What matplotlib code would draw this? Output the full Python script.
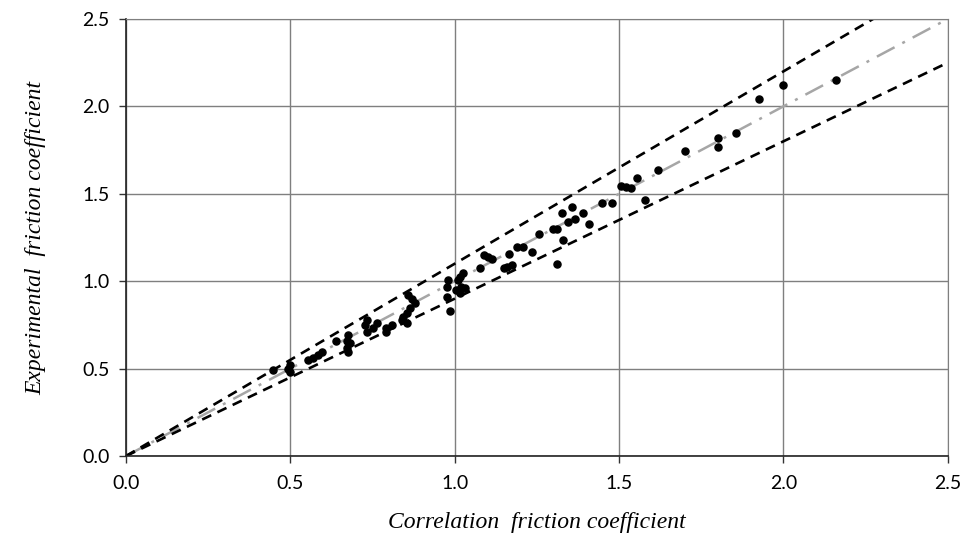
import matplotlib
matplotlib.use("Agg")
import matplotlib.pyplot as plt
import numpy as np

# correlation (x) vs experimental (y) friction coefficient
corr = [0.447, 0.50, 0.493, 0.50,
        0.553, 0.569, 0.584, 0.596, 0.64,
        0.675, 0.672, 0.68, 0.672, 0.675,
        0.733, 0.727, 0.733, 0.763, 0.75,
        0.81, 0.79, 0.79,
        0.858, 0.87, 0.88, 0.864, 0.855, 0.843, 0.855, 0.84,
        0.985, 0.976, 0.98, 1.025, 1.016, 1.01, 1.02, 1.03, 1.005, 1.016, 0.976,
        1.077, 1.09, 1.10, 1.113, 1.15, 1.16, 1.175, 1.165, 1.19, 1.207,
        1.235, 1.256, 1.31, 1.33, 1.30, 1.31, 1.344, 1.366, 1.326, 1.356,
        1.39, 1.41, 1.447, 1.48, 1.505, 1.52, 1.536, 1.554, 1.58, 1.62,
        1.70, 1.80, 1.80, 1.855, 1.925, 2.00, 2.16]
expt = [0.49, 0.52, 0.50, 0.48,
        0.55, 0.56, 0.578, 0.595, 0.66,
        0.69, 0.66, 0.646, 0.62, 0.595,
        0.78, 0.75, 0.71, 0.76, 0.73,
        0.75, 0.73, 0.71,
        0.92, 0.90, 0.875, 0.847, 0.82, 0.795, 0.76, 0.78,
        0.83, 0.91, 1.007, 1.047, 1.024, 1.007, 0.967, 0.96, 0.95, 0.93, 0.967,
        1.075, 1.15, 1.14, 1.127, 1.075, 1.08, 1.09, 1.156, 1.196, 1.196,
        1.167, 1.27, 1.10, 1.236, 1.30, 1.30, 1.34, 1.356, 1.39, 1.425,
        1.39, 1.33, 1.45, 1.45, 1.545, 1.54, 1.533, 1.59, 1.465, 1.636,
        1.745, 1.82, 1.77, 1.85, 2.04, 2.12, 2.15]

ticks = [0.0, 0.5, 1.0, 1.5, 2.0, 2.5]
tick_labels = ["0.0", "0.5", "1.0", "1.5", "2.0", "2.5"]
band = 0.10  # +/- 10 % lines

fig = plt.figure(figsize=(9.73, 5.38), dpi=100)
ax = fig.add_axes([0.1295, 0.1524, 0.8445, 0.8123])

ax.set_xlim(0, 2.5)
ax.set_ylim(0, 2.5)
ax.set_xticks(ticks)
ax.set_yticks(ticks)
ax.set_xticklabels(tick_labels, family="Lato", fontsize=14)
ax.set_yticklabels(tick_labels, family="Lato", fontsize=14)
ax.grid(True, color="#7f7f7f", linewidth=1.0)
ax.set_axisbelow(True)
ax.tick_params(direction="out", length=5, width=1, color="#333333")
ax.tick_params(axis="x", pad=9)
ax.tick_params(axis="y", pad=7)
for side in ["top", "right"]:
    ax.spines[side].set_color("#7f7f7f")
for side in ["left", "bottom"]:
    ax.spines[side].set_color("#222222")
    ax.spines[side].set_linewidth(1.2)

xs = np.array([0.0, 2.5])
ax.plot(xs, xs, color="#a6a6a6", linewidth=1.8, dashes=(8, 3.5, 1.2, 3.5))
ax.plot(xs, xs * (1 + band), color="black", linewidth=1.9, dashes=(3.8, 2.6))
ax.plot(xs, xs * (1 - band), color="black", linewidth=1.9, dashes=(3.8, 2.6))

ax.scatter(corr, expt, s=26, color="black", zorder=3)

ax.set_xlabel("Correlation  friction coefficient", family="Liberation Serif",
              style="italic", fontsize=17, labelpad=14)
ax.set_ylabel("Experimental  friction coefficient", family="Liberation Serif",
              style="italic", fontsize=17, labelpad=26)

fig.savefig("out.png", dpi=100)
